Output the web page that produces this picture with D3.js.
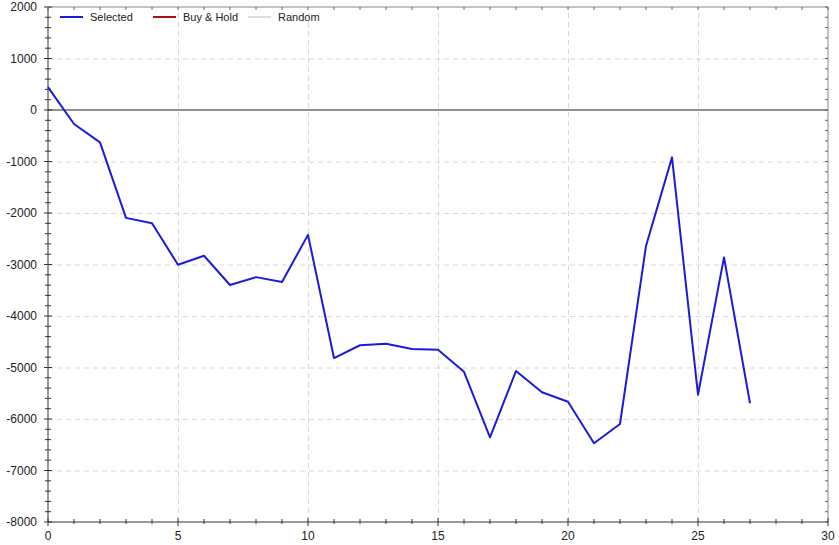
<!DOCTYPE html>
<html>
<head>
<meta charset="utf-8">
<script src="https://cdn.jsdelivr.net/npm/d3@7"></script>
<style>
  body { margin: 0; background: #fff; }
  text { font-family: Arial, "Liberation Sans", sans-serif; fill: #222; }
  .grid line { stroke: #d8d8d8; stroke-dasharray: 5,4; }
  .grid path { display: none; }
</style>
</head>
<body>
<div id="chart"></div>
<script>
// values
var trades = [0,1,2,3,4,5,6,7,8,9,10,11,12,13,14,15,16,17,18,19,20,21,22,23,24,25,26,27];
var selected = [445,-272,-628,-2095,-2200,-3005,-2830,-3398,-3245,-3340,-2425,-4816,-4568,-4540,-4641,-4656,-5083,-6355,-5068,-5480,-5665,-6470,-6097,-2640,-920,-5528,-2862,-5694];
var legendNames = ['Selected', 'Buy & Hold', 'Random'];
var legendColors = ['#1c1cd8', '#a0151c', '#dddddd'];
var xTicks = [0,5,10,15,20,25,30];
var yTicks = [2000,1000,0,-1000,-2000,-3000,-4000,-5000,-6000,-7000,-8000];

var width = 839, height = 545;
var margin = {top: 7, right: 11, bottom: 23, left: 48};
var w = width - margin.left - margin.right;
var h = height - margin.top - margin.bottom;

var svg = d3.select("#chart").append("svg")
  .attr("width", width)
  .attr("height", height);
var g = svg.append("g")
  .attr("transform", "translate(" + margin.left + "," + margin.top + ")");

var xScale = d3.scaleLinear().domain([0, 30]).range([0, w]);
var yScale = d3.scaleLinear().domain([-8000, 2000]).range([h, 0]);

// dashed grid
g.append("g")
  .attr("class", "grid")
  .attr("transform", "translate(0," + h + ")")
  .call(d3.axisBottom(xScale).tickValues(xTicks.slice(1, -1)).tickSize(-h).tickFormat(""));
g.append("g")
  .attr("class", "grid")
  .call(d3.axisLeft(yScale).tickValues(yTicks.filter(d => d !== 0 && d !== 2000 && d !== -8000)).tickSize(-w).tickFormat(""));

// zero line
g.append("line")
  .attr("x1", 0).attr("x2", w)
  .attr("y1", yScale(0)).attr("y2", yScale(0))
  .attr("stroke", "#222").attr("stroke-width", 1);

// frame: top and right lighter than the bottom/left axes
g.append("line").attr("x1", 0).attr("x2", w).attr("y1", 0).attr("y2", 0).attr("stroke", "#888");
g.append("line").attr("x1", w).attr("x2", w).attr("y1", 0).attr("y2", h).attr("stroke", "#888");
g.append("line").attr("x1", 0).attr("x2", w).attr("y1", h).attr("y2", h).attr("stroke", "#333");
g.append("line").attr("x1", 0).attr("x2", 0).attr("y1", 0).attr("y2", h).attr("stroke", "#333");

// minor tick marks
var yMinor = d3.range(-8000, 2001, 200);
var xMinor = d3.range(0, 31, 1);
g.selectAll(".ltick").data(yMinor).enter().append("line")
  .attr("x1", d => d % 1000 === 0 ? -4 : -3)
  .attr("x2", d => d % 1000 === 0 ? 4 : 3)
  .attr("y1", d => yScale(d)).attr("y2", d => yScale(d))
  .attr("stroke", "#333");
g.selectAll(".rtick").data(yMinor).enter().append("line")
  .attr("x1", w - 3).attr("x2", w)
  .attr("y1", d => yScale(d)).attr("y2", d => yScale(d))
  .attr("stroke", "#666");
g.selectAll(".btick").data(xMinor).enter().append("line")
  .attr("x1", d => xScale(d)).attr("x2", d => xScale(d))
  .attr("y1", d => d % 5 === 0 ? h - 4 : h - 3)
  .attr("y2", d => d % 5 === 0 ? h + 4 : h + 2)
  .attr("stroke", "#333");
g.selectAll(".ttick").data(xMinor).enter().append("line")
  .attr("x1", d => xScale(d)).attr("x2", d => xScale(d))
  .attr("y1", 0).attr("y2", 3)
  .attr("stroke", "#666");

// tick labels
g.selectAll(".ylab").data(yTicks).enter().append("text")
  .attr("x", -11)
  .attr("y", d => yScale(d))
  .attr("dy", "0.35em")
  .attr("text-anchor", "end")
  .attr("font-size", 12)
  .text(d => d);
g.selectAll(".xlab").data(xTicks).enter().append("text")
  .attr("x", d => xScale(d))
  .attr("y", h + 18)
  .attr("text-anchor", "middle")
  .attr("font-size", 12)
  .text(d => d);

// the series
var line = d3.line()
  .x((d, i) => xScale(trades[i]))
  .y(d => yScale(d));
g.append("path")
  .datum(selected)
  .attr("d", line)
  .attr("fill", "none")
  .attr("stroke", legendColors[0])
  .attr("stroke-width", 2)
  .attr("stroke-linejoin", "round");

// legend
var legendX = [12, 105, 200];
var legend = g.selectAll(".legend").data(legendNames).enter().append("g")
  .attr("transform", (d, i) => "translate(" + legendX[i] + ",10)");
legend.append("line")
  .attr("x1", 0).attr("x2", 23)
  .attr("stroke", (d, i) => legendColors[i])
  .attr("stroke-width", 2);
legend.append("text")
  .attr("x", 30)
  .attr("dy", "0.35em")
  .attr("font-size", 11)
  .text(d => d);
</script>
</body>
</html>
